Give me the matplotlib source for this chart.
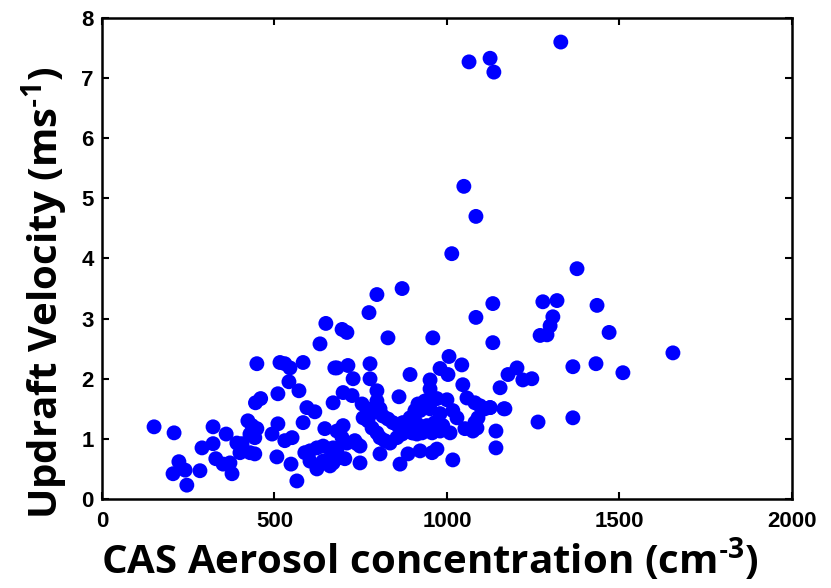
import matplotlib
matplotlib.use("Agg")
import matplotlib.pyplot as plt

# CAS aerosol concentration (cm-3) vs updraft velocity (m/s)
conc = [151, 209, 223, 206, 241, 246, 284, 290, 322, 322, 330, 351, 360, 371, 377,
        391, 406, 400, 423, 435, 449, 429, 443, 429, 443, 449, 445, 460, 493, 510,
        507, 510, 516, 530, 545, 542, 551, 530, 548, 565, 571, 583, 583, 594, 617,
        588, 603, 623, 641, 661, 681, 603, 641, 670, 623, 661, 632, 649, 646, 670,
        675,
        696, 710, 774, 797, 870, 829, 959, 681, 713, 777, 728, 777, 699, 725, 797,
        861, 893, 951, 980, 1006, 1043, 1003, 951, 1046, 1058,
        754, 768, 783, 797, 806, 814, 829, 843, 858, 872, 893, 907, 916,
        757, 771, 783, 797, 806, 820, 835, 855, 870, 884, 899, 913,
        699, 681, 696, 710, 733, 748, 739,
        670, 684, 704, 667, 806, 748, 864, 887, 922, 957, 971, 1017,
        936, 971, 1000, 922, 951, 980, 1017, 1029, 1081, 1096, 1110, 1125, 1090,
        1081, 913, 942, 965, 988, 901, 928, 957, 980, 1009, 1052, 1075, 1087,
        1142, 1142,
        1133, 1084, 1133, 1278, 1319, 1307, 1299, 1270, 1290, 1365, 1365, 1264,
        1154, 1177, 1203, 1220, 1246, 1168, 1125, 1165, 1377, 1435, 1470, 1432,
        1510, 1655,
        1330, 1064, 1125, 1136, 1049, 1084, 1014]

updraft = [1.20, 1.10, 0.62, 0.42, 0.48, 0.23, 0.47, 0.85, 1.20, 0.92, 0.67, 0.58, 1.08, 0.60, 0.42,
           0.93, 0.92, 0.77, 1.30, 1.22, 1.17, 1.08, 1.02, 0.77, 0.75, 2.25, 1.60, 1.67, 1.08, 1.25,
           0.70, 1.75, 2.27, 2.25, 2.18, 1.95, 1.02, 0.97, 0.58, 0.30, 1.80, 2.27, 1.27, 1.52, 1.45,
           0.77, 0.80, 0.85, 0.88, 0.83, 0.80, 0.63, 0.63, 0.60, 0.50, 0.55, 2.58, 2.92, 1.17, 1.60,
           2.18,
           2.82, 2.77, 3.10, 3.40, 3.50, 2.68, 2.68, 2.18, 2.22, 2.25, 2.00, 2.00, 1.77, 1.72, 1.80,
           1.70, 2.07, 1.98, 2.17, 2.37, 2.23, 2.07, 1.83, 1.90, 1.68,
           1.58, 1.50, 1.43, 1.63, 1.50, 1.38, 1.33, 1.27, 1.22, 1.27, 1.35, 1.47, 1.58,
           1.35, 1.30, 1.18, 1.10, 1.02, 0.97, 0.93, 1.02, 1.08, 1.13, 1.10, 1.08,
           1.22, 1.13, 1.02, 0.93, 0.97, 0.88, 0.92,
           0.85, 0.68, 0.67, 0.63, 0.75, 0.60, 0.58, 0.75, 0.80, 0.77, 0.83, 0.65,
           1.63, 1.67, 1.65, 1.47, 1.50, 1.42, 1.47, 1.35, 1.60, 1.55, 1.50, 1.52, 1.35,
           1.27, 1.25, 1.22, 1.27, 1.22, 1.10, 1.10, 1.10, 1.13, 1.10, 1.17, 1.13, 1.18,
           1.13, 0.85,
           3.25, 3.02, 2.60, 3.28, 3.30, 3.03, 2.88, 2.72, 2.73, 2.20, 1.35, 1.28,
           1.85, 2.07, 2.18, 1.98, 2.00, 1.50, 1.52, 1.50, 3.83, 3.22, 2.77, 2.25,
           2.10, 2.43,
           7.60, 7.27, 7.33, 7.10, 5.20, 4.70, 4.08]

xticks = [0, 500, 1000, 1500, 2000]
yticks = [0, 1, 2, 3, 4, 5, 6, 7, 8]

plt.rcParams["mathtext.fontset"] = "custom"
plt.rcParams["mathtext.rm"] = "Open Sans:bold"
plt.rcParams["mathtext.bf"] = "Open Sans:bold"

fig = plt.figure(figsize=(8.31, 5.88), dpi=100)
ax = fig.add_axes([0.1227, 0.1514, 0.8303, 0.8180])

ax.scatter(conc, updraft, s=115, c="#0000ff", edgecolors="none", zorder=3)

ax.set_xlim(0, 2000)
ax.set_ylim(0, 8)
ax.set_xticks(xticks)
ax.set_yticks(yticks)
ax.tick_params(direction="in", top=True, right=True, length=5, width=1.5)
ax.tick_params(axis="x", pad=9)
ax.tick_params(axis="y", pad=6)
for lbl in ax.get_xticklabels() + ax.get_yticklabels():
    lbl.set_fontfamily("Liberation Sans")
    lbl.set_fontweight("bold")
    lbl.set_fontsize(16)
for sp in ax.spines.values():
    sp.set_linewidth(1.8)

ax.set_xlabel("CAS Aerosol concentration (cm$^{\\mathbf{\u20103}}$)", fontfamily="Open Sans",
              fontweight="bold", fontsize=29)
ax.set_ylabel("Updraft Velocity (ms$^{\\mathbf{\u20101}}$)", fontfamily="Open Sans",
              fontweight="bold", fontsize=29)
ax.xaxis.set_label_coords(0.475, -0.076)
ax.yaxis.set_label_coords(-0.046, 0.428)

fig.savefig("out.png", dpi=100)
